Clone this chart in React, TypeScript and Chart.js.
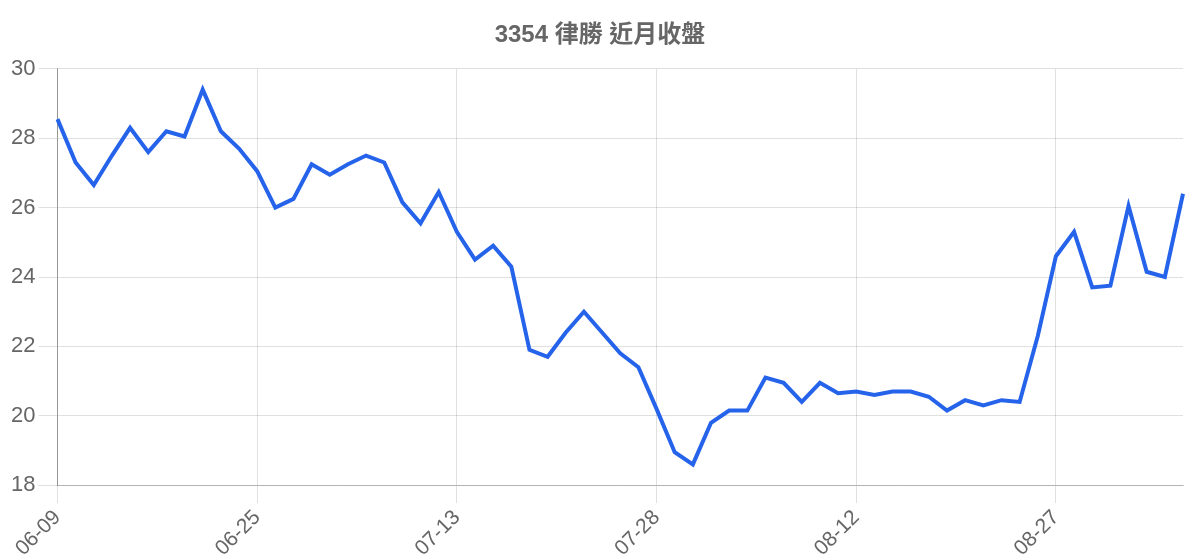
import { useEffect, useRef } from 'react';
import { Chart, registerables } from 'chart.js';

Chart.register(...registerables);

// trading days (MM-DD)
const dates: string[] = [
    '06-09', '06-10', '06-11', '06-15', '06-16', '06-17', '06-18', '06-21', '06-22', '06-23', '06-24', '06-25',
    '06-28', '06-29', '06-30', '07-01', '07-02', '07-05', '07-06', '07-07', '07-08', '07-12', '07-13',
    '07-14', '07-15', '07-16', '07-19', '07-20', '07-21', '07-22', '07-23', '07-26', '07-27', '07-28',
    '07-29', '07-30', '08-02', '08-03', '08-04', '08-05', '08-06', '08-09', '08-10', '08-11', '08-12',
    '08-13', '08-16', '08-17', '08-18', '08-19', '08-20', '08-23', '08-24', '08-25', '08-26', '08-27',
    '08-30', '08-31', '09-01', '09-02', '09-03', '09-06', '09-07',
];

// closing prices
const closes: number[] = [
    28.55, 27.3, 26.65, 27.5, 28.3, 27.6, 28.2, 28.05, 29.4, 28.2, 27.7, 27.05,
    26.0, 26.25, 27.25, 26.95, 27.25, 27.5, 27.3, 26.15, 25.55, 26.45, 25.3,
    24.5, 24.9, 24.3, 21.9, 21.7, 22.4, 23.0, 22.4, 21.8, 21.4, 20.2,
    18.95, 18.6, 19.8, 20.15, 20.15, 21.1, 20.95, 20.4, 20.95, 20.65, 20.7,
    20.6, 20.7, 20.7, 20.55, 20.15, 20.45, 20.3, 20.45, 20.4, 22.3, 24.6,
    25.3, 23.7, 23.75, 26.05, 24.15, 24.0, 26.4,
];

const yMin = 18;
const yMax = 30;
const yStep = 2;

export default function App() {
    const canvasRef = useRef<HTMLCanvasElement | null>(null);

    useEffect(() => {
        if (!canvasRef.current) return;
        Chart.defaults.font.family = "'Liberation Sans', Arial, 'Noto Sans CJK TC', sans-serif";

        const chart = new Chart(canvasRef.current, {
            type: 'line',
            data: {
                labels: dates,
                datasets: [
                    {
                        label: '收盤',
                        data: closes,
                        borderColor: '#2563eb',
                        backgroundColor: '#2563eb',
                        borderWidth: 4,
                        pointRadius: 0,
                        tension: 0,
                    },
                ],
            },
            options: {
                responsive: true,
                maintainAspectRatio: false,
                animation: false,
                plugins: {
                    legend: { display: false },
                    title: {
                        display: true,
                        text: '3354 律勝 近月收盤',
                        color: '#666',
                        font: { size: 24, weight: 'bold' },
                        padding: { top: 13, bottom: 19 },
                    },
                    tooltip: { enabled: false },
                },
                scales: {
                    x: {
                        grid: { color: 'rgba(0,0,0,0.12)', tickLength: 18 },
                        border: { color: 'rgba(0,0,0,0.2)' },
                        ticks: {
                            autoSkip: true,
                            maxTicksLimit: 6,
                            minRotation: 45,
                            maxRotation: 45,
                            padding: 2,
                            color: '#666',
                            font: { size: 21 },
                        },
                        // leave a small gap at the right edge, like the last (skipped) label would
                        afterFit: (scale: any) => {
                            scale.paddingRight = 9;
                        },
                    },
                    y: {
                        min: yMin,
                        max: yMax,
                        grid: { color: 'rgba(0,0,0,0.12)', tickLength: 19 },
                        border: { color: 'rgba(0,0,0,0.33)' },
                        ticks: {
                            stepSize: yStep,
                            padding: 3,
                            color: '#666',
                            font: { size: 22 },
                        },
                    },
                },
            },
        });

        return () => chart.destroy();
    }, []);

    return (
        <div style={{ position: 'fixed', top: 8, left: 8, right: 8, height: 555 }}>
            <canvas ref={canvasRef} />
        </div>
    );
}
